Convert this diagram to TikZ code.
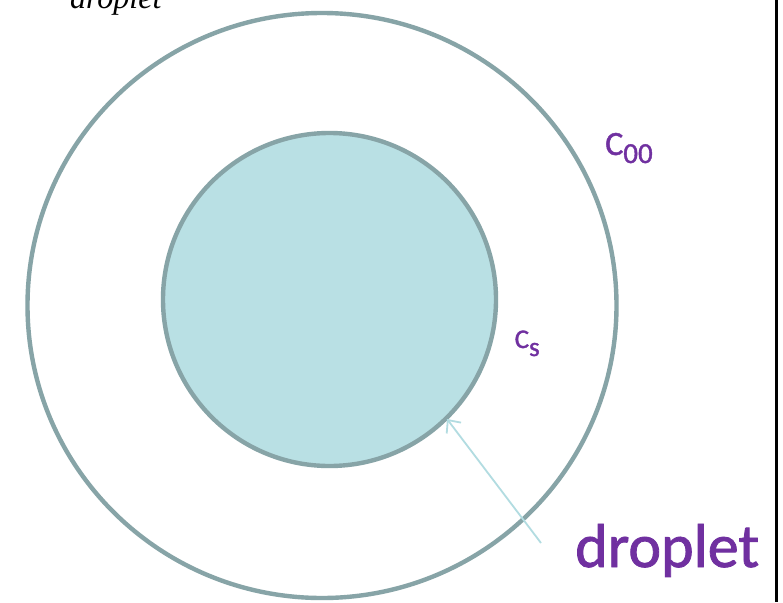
\documentclass[tikz,border=0pt]{standalone}
\usepackage{fontspec}
\setmainfont{Carlito}
\newfontfamily\labfont[FakeBold=1.3]{Carlito}
\newfontfamily\timesit{Liberation Serif}
\usetikzlibrary{arrows.meta}
\definecolor{rimcol}{HTML}{87A4A7}
\definecolor{fillcol}{HTML}{B9E0E4}
\definecolor{arrowcol}{HTML}{B2DCE1}
\definecolor{labcol}{HTML}{7030A0}
\tikzset{
  rim/.style={draw=rimcol, line width=4.4pt},
  lab/.style={text=labcol, inner sep=0pt},
}
\begin{document}
\begin{tikzpicture}[x=1pt,y=-1pt]
\useasboundingbox (0,0) rectangle (783,602);
\fill[white] (0,0) rectangle (783,602);
% outer circle
\draw[rim] (322,305.5) ellipse [x radius=294.5, y radius=292.5];
% inner droplet
\draw[rim, fill=fillcol] (329.5,299.5) ellipse [x radius=166.5, y radius=166.5];
% right black edge
\fill[black] (775,0) rectangle (777.5,602);
% labels
\node[lab, anchor=base west, font=\labfont\fontsize{34}{34}\selectfont] (c00) at (605,155)
  {C\raisebox{-8pt}{\fontsize{29}{29}\selectfont 00}};
\node[lab, anchor=base west, font=\labfont\fontsize{27}{27}\selectfont] (cs) at (514.5,348)
  {C\raisebox{-8pt}{\fontsize{27}{27}\selectfont s}};
\node[lab, anchor=base west, font=\labfont\fontsize{62}{62}\selectfont] (dl) at (575,567) {droplet};
\node[inner sep=0pt, anchor=base west, font=\fontsize{32}{32}\selectfont\timesit\itshape] (top) at (70,9) {droplet};
% arrow
\coordinate (tail) at (541,543);
\coordinate (tip) at (447,419);
\draw[arrowcol, line width=1.8pt, -{Straight Barb[length=10pt,width=18pt]}] (tail) -- (tip);
\end{tikzpicture}
\end{document}
